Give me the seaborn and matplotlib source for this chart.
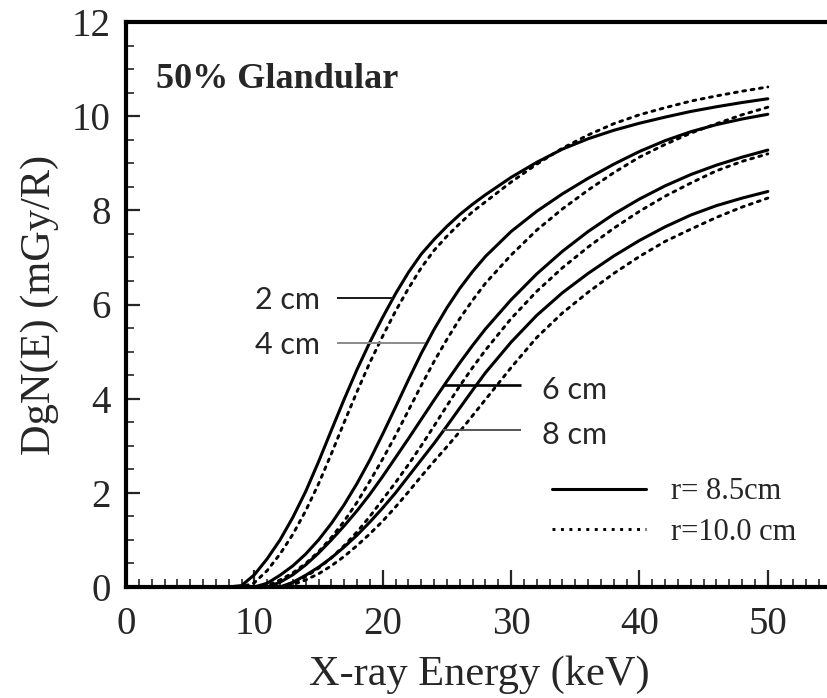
import matplotlib
matplotlib.use("Agg")
import matplotlib.pyplot as plt
from matplotlib.lines import Line2D
from matplotlib.ticker import MultipleLocator, FixedLocator
import seaborn as sns

# Photon energy grid (keV)
energy = [8, 9, 10, 11, 12, 13, 14, 15, 16, 17, 18, 19, 20, 21, 22, 23, 24, 25,
          26, 27, 28, 30, 32, 34, 36, 38, 40, 42, 44, 46, 48, 50]

# Normalized glandular dose DgN(E) in mGy/R, breast radius r = 8.5 cm
dgn_r85_2cm = [0.0, 0.03, 0.26, 0.6, 1.0, 1.48, 2.03, 2.66, 3.33, 3.99, 4.62, 5.2, 5.73,
               6.23, 6.68, 7.07, 7.38, 7.66, 7.91, 8.13, 8.33, 8.7, 9.02, 9.3, 9.52,
               9.7, 9.85, 9.98, 10.1, 10.2, 10.29, 10.37]
dgn_r85_4cm = [0.0, 0.0, 0.0, 0.08, 0.25, 0.45, 0.7, 1.0, 1.35, 1.75, 2.2, 2.7, 3.25,
               3.82, 4.4, 4.96, 5.47, 5.93, 6.34, 6.7, 7.02, 7.55, 7.98, 8.35, 8.68,
               8.98, 9.25, 9.48, 9.67, 9.82, 9.94, 10.04]
dgn_r85_6cm = [0.0, 0.0, 0.0, 0.0, 0.1, 0.26, 0.47, 0.72, 1.0, 1.3, 1.62, 1.97, 2.35,
               2.75, 3.15, 3.56, 3.97, 4.37, 4.76, 5.13, 5.48, 6.1, 6.65, 7.13, 7.55,
               7.92, 8.24, 8.52, 8.76, 8.96, 9.13, 9.28]
dgn_r85_8cm = [0.0, 0.0, 0.0, 0.0, 0.0, 0.1, 0.25, 0.42, 0.62, 0.85, 1.1, 1.38, 1.68,
               2.0, 2.35, 2.7, 3.05, 3.42, 3.8, 4.18, 4.55, 5.2, 5.77, 6.25, 6.66,
               7.03, 7.36, 7.65, 7.9, 8.1, 8.26, 8.4]

# Same quantity for breast radius r = 10.0 cm
dgn_r10_2cm = [0.0, 0.0, 0.09, 0.35, 0.7, 1.12, 1.62, 2.19, 2.83, 3.5, 4.15, 4.77, 5.33,
               5.86, 6.34, 6.78, 7.15, 7.45, 7.72, 7.97, 8.18, 8.6, 8.98, 9.32, 9.6,
               9.84, 10.03, 10.18, 10.32, 10.43, 10.53, 10.62]
dgn_r10_4cm = [0.0, 0.0, 0.0, 0.03, 0.15, 0.3, 0.5, 0.75, 1.05, 1.4, 1.8, 2.25, 2.72,
               3.22, 3.75, 4.28, 4.79, 5.26, 5.7, 6.09, 6.45, 7.05, 7.58, 8.03, 8.43,
               8.8, 9.13, 9.4, 9.64, 9.84, 10.03, 10.19]
dgn_r10_6cm = [0.0, 0.0, 0.0, 0.0, 0.0, 0.08, 0.22, 0.4, 0.62, 0.88, 1.17, 1.5, 1.86,
               2.22, 2.6, 3.0, 3.42, 3.85, 4.27, 4.66, 5.03, 5.7, 6.28, 6.78, 7.22,
               7.62, 7.98, 8.3, 8.58, 8.84, 9.04, 9.2]
dgn_r10_8cm = [0.0, 0.0, 0.0, 0.0, 0.0, 0.05, 0.15, 0.28, 0.45, 0.65, 0.88, 1.13, 1.4,
               1.7, 2.02, 2.35, 2.67, 2.98, 3.3, 3.64, 3.98, 4.66, 5.3, 5.82, 6.26,
               6.66, 7.02, 7.34, 7.6, 7.85, 8.07, 8.26]

thickness_labels = ["2 cm", "4 cm", "6 cm", "8 cm"]
radius_labels = ["r= 8.5cm", "r=10.0 cm"]
x_ticks = [0, 10, 20, 30, 40, 50]
y_ticks = [0, 2, 4, 6, 8, 10, 12]

series_r85 = [dgn_r85_2cm, dgn_r85_4cm, dgn_r85_6cm, dgn_r85_8cm]
series_r10 = [dgn_r10_2cm, dgn_r10_4cm, dgn_r10_6cm, dgn_r10_8cm]

sns.set_style("ticks")
plt.rcParams["font.family"] = ["Liberation Serif", "DejaVu Serif"]

W, H = 827, 698
fig = plt.figure(figsize=(W / 100, H / 100), dpi=100)
# axes box in pixels: left 126, right 832 (just past the canvas), top 22, bottom 587
ax = fig.add_axes([126 / W, 1 - 587 / H, (832 - 126) / W, (587 - 22) / H])

dotted = (0, (1.0, 1.9))
for vals in series_r85:
    sns.lineplot(x=energy, y=vals, ax=ax, color="black", lw=2.2,
                 estimator=None, sort=False, solid_capstyle="round",
                 solid_joinstyle="round")
for vals in series_r10:
    sns.lineplot(x=energy, y=vals, ax=ax, color="black", lw=2.1,
                 linestyle=dotted, estimator=None, sort=False,
                 dash_capstyle="round")

ax.set_xlim(0, 55)
ax.set_ylim(0, 12)
ax.xaxis.set_major_locator(FixedLocator(x_ticks))
ax.xaxis.set_minor_locator(MultipleLocator(1))
ax.yaxis.set_major_locator(FixedLocator(y_ticks))
ax.yaxis.set_minor_locator(MultipleLocator(0.5))
ax.set_xticklabels([str(t) for t in x_ticks])
ax.set_yticklabels([str(t) for t in y_ticks])

for side in ["left", "bottom", "top"]:
    ax.spines[side].set_linewidth(3.0)
    ax.spines[side].set_color("black")
ax.spines["right"].set_visible(False)

ax.tick_params(which="major", direction="in", length=10, width=1.6,
               labelsize=28, pad=11, top=False, right=False)
ax.tick_params(which="minor", direction="in", length=5.5, width=1.2,
               top=False, right=False)
ax.tick_params(axis="x", which="major", length=12, pad=14)

ax.set_xlabel("X-ray Energy (keV)", fontsize=30.5, labelpad=9)
ax.set_ylabel("DgN(E) (mGy/R)", fontsize=30.5, labelpad=9)

ax.text(2.3, 10.6, "50% Glandular", fontsize=26, fontweight="bold",
        ha="left", va="baseline")

# Thickness call-outs with leader lines
label_font = ["Lato", "DejaVu Sans"]
left_labels = [(thickness_labels[0], 15.1, 5.91, 16.4, 20.8, 6.14, "#1a1a1a", 1.4),
               (thickness_labels[1], 15.1, 4.95, 16.4, 23.3, 5.18, "#8a8a8a", 1.4)]
right_labels = [(thickness_labels[2], 32.4, 4.0, 24.7, 30.8, 4.29, "#000000", 1.9),
                (thickness_labels[3], 32.4, 3.04, 24.7, 30.8, 3.33, "#555555", 1.4)]
for text, tx, ty, x0, x1, ly, c, w in left_labels:
    ax.text(tx, ty, text, fontsize=22, family=label_font, ha="right", va="baseline")
    ax.plot([x0, x1], [ly, ly], color=c, lw=w, solid_capstyle="butt")
for text, tx, ty, x0, x1, ly, c, w in right_labels:
    ax.text(tx, ty, text, fontsize=22, family=label_font, ha="left", va="baseline")
    ax.plot([x0, x1], [ly, ly], color=c, lw=w, solid_capstyle="butt")

handles = [Line2D([], [], color="black", lw=2.2),
           Line2D([], [], color="black", lw=2.1, linestyle=dotted)]
ax.legend(handles, radius_labels, loc="center left",
          bbox_to_anchor=(0.603, 0.1327), frameon=False, fontsize=22,
          handlelength=3.1, handletextpad=0.8, labelspacing=0.38,
          borderpad=0, borderaxespad=0)

fig.savefig("out.png", dpi=100)
